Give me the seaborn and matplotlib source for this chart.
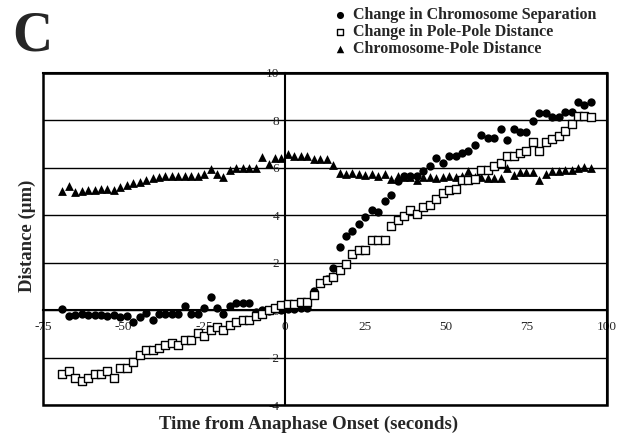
import numpy as np
import pandas as pd
import seaborn as sns
import matplotlib.pyplot as plt
from matplotlib.patches import Rectangle

# time from anaphase onset (s)
time_s = [-69, -67, -65, -63, -61, -59, -57, -55, -53, -51,
          -49, -47, -45, -43, -41, -39, -37, -35, -33, -31,
          -29, -27, -25, -23, -21, -19, -17, -15, -13, -11,
          -9, -7, -5, -3, -1, 1, 3, 5, 7, 9,
          11, 13, 15, 17, 19, 21, 23, 25, 27, 29,
          31, 33, 35, 37, 39, 41, 43, 45, 47, 49,
          51, 53, 55, 57, 59, 61, 63, 65, 67, 69,
          71, 73, 75, 77, 79, 81, 83, 85, 87, 89,
          91, 93, 95]

# change in chromosome separation (um)
chrom_sep = [0.03, -0.25, -0.20, -0.17, -0.20, -0.20, -0.22, -0.25, -0.22, -0.28,
             -0.25, -0.50, -0.28, -0.11, -0.42, -0.17, -0.17, -0.17, -0.17, 0.17,
             -0.17, -0.17, 0.07, 0.54, 0.07, -0.17, 0.17, 0.28, 0.28, 0.28,
             -0.10, 0.00, -0.05, 0.05, 0.00, 0.05, 0.05, 0.10, 0.10, 0.82,
             1.15, 1.30, 1.77, 2.66, 3.14, 3.35, 3.63, 3.93, 4.24, 4.12,
             4.59, 4.84, 5.44, 5.65, 5.65, 5.65, 5.86, 6.07, 6.43, 6.21,
             6.50, 6.50, 6.64, 6.71, 6.95, 7.37, 7.27, 7.27, 7.63, 7.17,
             7.63, 7.51, 7.51, 7.98, 8.31, 8.31, 8.12, 8.12, 8.36, 8.36,
             8.76, 8.64, 8.78]

# change in pole-pole distance (um)
pole_pole = [-2.71, -2.58, -2.85, -2.97, -2.85, -2.71, -2.71, -2.58, -2.85, -2.44,
             -2.44, -2.19, -1.91, -1.69, -1.69, -1.58, -1.48, -1.38, -1.48, -1.24,
             -1.24, -0.96, -1.10, -0.82, -0.70, -0.82, -0.64, -0.49, -0.40, -0.40,
             -0.25, -0.17, 0.00, 0.07, 0.21, 0.25, 0.25, 0.35, 0.35, 0.64,
             1.16, 1.27, 1.38, 1.69, 1.95, 2.36, 2.54, 2.54, 2.94, 2.94,
             2.94, 3.56, 3.78, 3.98, 4.21, 4.03, 4.35, 4.45, 4.69, 4.92,
             5.06, 5.11, 5.48, 5.50, 5.54, 5.90, 5.90, 6.07, 6.19, 6.50,
             6.50, 6.64, 6.71, 7.09, 6.71, 7.09, 7.20, 7.32, 7.56, 7.84,
             8.19, 8.19, 8.12]

# chromosome-pole distance (um)
chrom_pole = [5.01, 5.25, 4.97, 5.01, 5.05, 5.07, 5.10, 5.10, 5.05, 5.20,
              5.27, 5.34, 5.40, 5.48, 5.55, 5.62, 5.65, 5.65, 5.65, 5.65,
              5.65, 5.65, 5.73, 5.93, 5.73, 5.62, 5.90, 5.97, 5.97, 5.97,
              5.97, 6.44, 6.16, 6.40, 6.40, 6.57, 6.50, 6.50, 6.50, 6.36,
              6.36, 6.36, 6.12, 5.79, 5.75, 5.79, 5.72, 5.68, 5.72, 5.65,
              5.72, 5.51, 5.65, 5.60, 5.62, 5.50, 5.60, 5.62, 5.55, 5.60,
              5.65, 5.62, 5.65, 5.86, 5.60, 5.62, 5.58, 5.55, 5.55, 6.00,
              5.70, 5.82, 5.82, 5.82, 5.50, 5.72, 5.87, 5.87, 5.90, 5.90,
              6.00, 6.02, 5.97]

x_ticks = [-75, -50, -25, 0, 25, 50, 75, 100]
y_ticks = [-4, -2, 0, 2, 4, 6, 8, 10]

df = pd.DataFrame({"time": time_s, "sep": chrom_sep,
                   "pp": pole_pole, "cp": chrom_pole})

sns.set_style("white")
plt.rcParams['font.family'] = ['Liberation Serif', 'DejaVu Serif']

fig = plt.figure(figsize=(6.18, 4.36), dpi=100)
ax = fig.add_axes([0.0696, 0.071, 0.9126, 0.762])

sns.scatterplot(data=df, x="time", y="sep", marker="o", color="black", s=36,
                linewidth=0, label="Change in Chromosome Separation", ax=ax, zorder=3)
sns.scatterplot(data=df, x="time", y="pp", marker="s", color="white", edgecolor="black",
                s=34, linewidth=1.0, label="Change in Pole-Pole Distance", ax=ax, zorder=4)
sns.scatterplot(data=df, x="time", y="cp", marker="^", color="black", s=40,
                linewidth=0, label="Chromosome-Pole Distance", ax=ax, zorder=3)

ax.set_xlim(-75, 100)
ax.set_ylim(-4, 10)
ax.set_xticks(x_ticks)
ax.set_xticklabels([str(v) for v in x_ticks])
ax.set_yticks(y_ticks)
ax.set_yticklabels([str(v) for v in y_ticks])
ax.set_xlabel("")
ax.set_ylabel("")

# axes cross at the origin, plus a full frame around the plot
ax.spines['left'].set_position(('data', 0))
ax.spines['bottom'].set_position(('data', 0))
for sp in ax.spines.values():
    sp.set_linewidth(1.5)
    sp.set_color("black")
ax.add_patch(Rectangle((0, 0), 1, 1, transform=ax.transAxes, fill=False,
                       edgecolor="black", linewidth=1.8, clip_on=False, zorder=5))

ax.yaxis.grid(True, color="black", linewidth=1.0)
ax.xaxis.grid(False)
ax.set_axisbelow(True)
ax.tick_params(axis="x", direction="out", length=4, width=1, labelsize=9.5, pad=4)
ax.tick_params(axis="y", direction="out", length=3, width=1, labelsize=9.5, pad=1)

handles, labels = ax.get_legend_handles_labels()
ax.get_legend().remove()
fig.legend(handles, labels, loc="upper left", bbox_to_anchor=(0.522, 1.005),
           frameon=False, prop={"weight": "bold", "size": 11.5},
           handletextpad=0.3, labelspacing=0.05, markerscale=0.85,
           handlelength=1.0, borderaxespad=0.2)

fig.text(0.02, 0.975, "C", fontsize=40, fontweight="bold", va="top", ha="left")
fig.text(0.50, 0.027, "Time from Anaphase Onset (seconds)", fontsize=13.5,
         fontweight="bold", ha="center", va="center")
fig.text(0.045, 0.46, "Distance (\u03bcm)", fontsize=13.5, fontweight="bold",
         rotation=90, ha="center", va="center")

fig.savefig("out.png", dpi=100)
